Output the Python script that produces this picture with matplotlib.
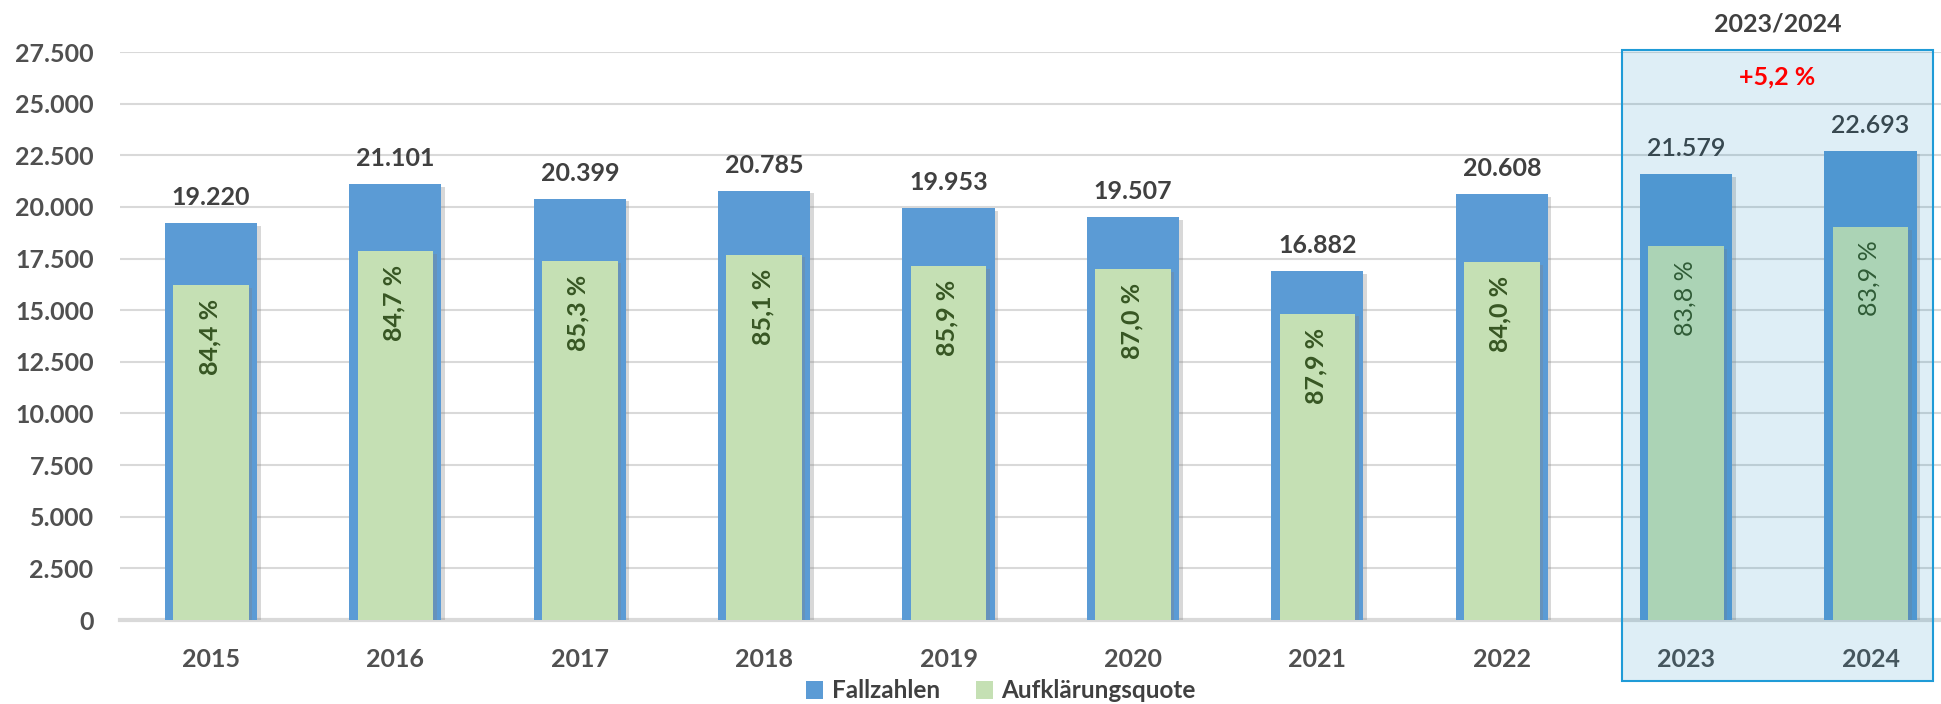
import matplotlib
matplotlib.use("Agg")
import matplotlib.pyplot as plt
import matplotlib.patheffects as pe
from matplotlib.patches import Rectangle
from matplotlib.ticker import FuncFormatter, MultipleLocator
from matplotlib.transforms import blended_transform_factory

plt.rcParams['font.family'] = ['Lato', 'DejaVu Sans']

years = ['2015', '2016', '2017', '2018', '2019', '2020', '2021', '2022', '2023', '2024']
fallzahlen = [19220, 21101, 20399, 20785, 19953, 19507, 16882, 20608, 21579, 22693]
quote = [84.4, 84.7, 85.3, 85.1, 85.9, 87.0, 87.9, 84.0, 83.8, 83.9]

BLUE = '#5B9BD5'
GREEN = '#C5E0B4'
TEXT = '#404040'
TICK = '#505050'


def de_int(v):
    return f"{int(round(v)):,}".replace(',', '.')


def de_pct(v):
    return f"{v:.1f}".replace('.', ',') + ' %'


fig = plt.figure(figsize=(19.41, 7.04), dpi=100)
ax = fig.add_axes([120 / 1941, 84 / 704, 1821 / 1941, 568 / 704])

x = list(range(len(years)))
aufgeklaert = [f * q / 100 for f, q in zip(fallzahlen, quote)]

shadow = [pe.SimplePatchShadow(offset=(2.5, -2), shadow_rgbFace='#808080', alpha=0.3), pe.Normal()]
bars_blue = ax.bar(x, fallzahlen, width=0.5, color=BLUE, zorder=3, label='Fallzahlen')
bars_green = ax.bar(x, aufgeklaert, width=0.41, color=GREEN, zorder=4, label='Aufklärungsquote')
for b in list(bars_blue) + list(bars_green):
    b.set_path_effects(shadow)

in_box = [y in ('2023', '2024') for y in years]
for xi, f, a, q, hl in zip(x, fallzahlen, aufgeklaert, quote, in_box):
    ax.annotate(de_int(f), (xi, f), xytext=(0, 13), textcoords='offset points',
                ha='center', va='baseline', fontsize=18,
                fontweight='semibold' if hl else 'bold', color=TEXT, zorder=6)
    ax.annotate(de_pct(q), (xi, a), xytext=(-1, -10), textcoords='offset points',
                ha='center', va='top', rotation=90, fontsize=18,
                fontweight='normal' if hl else 'bold', color='#375623', zorder=6)

ax.set_xlim(-0.4935, 9.382)
ax.set_ylim(0, 27500)
ax.yaxis.set_major_locator(MultipleLocator(2500))
ax.yaxis.set_major_formatter(FuncFormatter(lambda v, p: de_int(v)))
ax.set_xticks(x)
ax.set_xticklabels(years)
ax.tick_params(axis='both', length=0, labelsize=18, colors=TICK)
ax.tick_params(axis='y', pad=19)
ax.tick_params(axis='x', pad=20)
for lab in ax.get_xticklabels() + ax.get_yticklabels():
    lab.set_fontweight('bold')

ax.grid(axis='y', color='#D9D9D9', linewidth=1.5, zorder=0)
ax.set_axisbelow(True)
for s in ['top', 'right', 'left']:
    ax.spines[s].set_visible(False)
ax.spines['bottom'].set_color('#D9D9D9')
ax.spines['bottom'].set_linewidth(3)

# highlight box for 2023/2024
i0 = years.index('2023')
i1 = years.index('2024')
trans = blended_transform_factory(ax.transData, ax.transAxes)
box = Rectangle((i0 - 0.35, -0.107), (i1 + 0.34) - (i0 - 0.35), 1.0035 + 0.107,
                transform=trans, facecolor=(0.0, 0.5, 0.74, 0.13), edgecolor='#1F9BD7',
                linewidth=1.5, clip_on=False, zorder=10)
ax.add_patch(box)
mid = ((i0 - 0.35) + (i1 + 0.34)) / 2
ax.text(mid, 1.049, f"{years[i0]}/{years[i1]}", transform=trans, ha='center', va='center',
        fontsize=18, fontweight='bold', color=TEXT, clip_on=False)
change = (fallzahlen[i1] / fallzahlen[i0] - 1) * 100
ax.text(mid, 0.956, ('+' if change >= 0 else '') + f"{change:.1f}".replace('.', ',') + ' %',
        transform=trans, ha='center', va='center', fontsize=18, fontweight='bold',
        color='#FF0000', zorder=11)

leg = fig.legend(handles=[bars_blue, bars_green], loc='center', bbox_to_anchor=(1001 / 1941, 13 / 704),
                 ncol=2, frameon=False, fontsize=17.5, handlelength=0.7, handleheight=0.7,
                 handletextpad=0.35, columnspacing=1.5)
for t in leg.get_texts():
    t.set_color(TEXT)
    t.set_fontweight('bold')
for h in leg.legend_handles:
    h.set_path_effects([])

fig.savefig('out.png', dpi=100)
